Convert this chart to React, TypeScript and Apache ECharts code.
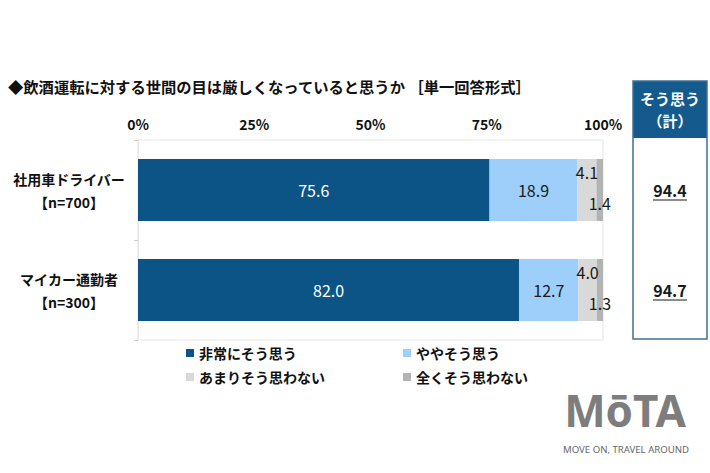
import React, { useEffect, useRef } from "react";
import * as echarts from "echarts";

const categories = ["社用車ドライバー\n【n=700】", "マイカー通勤者\n【n=300】"];
const seriesNames = ["非常にそう思う", "ややそう思う", "あまりそう思わない", "全くそう思わない"];
const strongly = [75.6, 82.0];
const somewhat = [18.9, 12.7];
const notMuch = [4.1, 4.0];
const notAtAll = [1.4, 1.3];
const totals = [94.4, 94.7];
const xTicks = [0, 25, 50, 75, 100];

const FONT = '"Noto Sans CJK JP", "Noto Sans", sans-serif';
const LOGO_FONT = '"Noto Sans", "Open Sans", sans-serif';
const colors = ["#0d5486", "#9dcffa", "#d9d9d9", "#b3b3b3"];

export default function App() {
  const ref = useRef<HTMLDivElement>(null);
  useEffect(() => {
    const chart = echarts.init(ref.current!, null, { renderer: "svg" });
    const labelFmt = (p: any) => Number(p.value).toFixed(1);
    const values = [strongly, somewhat, notMuch, notAtAll];
    const labelCfg = [
      { show: true, position: "inside", color: "#ffffff", fontSize: 16, fontFamily: FONT, formatter: labelFmt },
      { show: true, position: "inside", color: "#1a1a1a", fontSize: 16, fontFamily: FONT, formatter: labelFmt },
      { show: true, position: "insideTop", distance: 5, color: "#1a1a1a", fontSize: 16, fontFamily: FONT, formatter: labelFmt },
      { show: true, position: "insideBottom", distance: 10, color: "#1a1a1a", fontSize: 16, fontFamily: FONT, formatter: labelFmt },
    ];
    const barSeries = seriesNames.map((name, i) => ({
      name,
      type: "bar",
      stack: "total",
      xAxisIndex: 0,
      yAxisIndex: 0,
      barWidth: "62%",
      itemStyle: { color: colors[i] },
      label: labelCfg[i],
      data: values[i],
    }));
    const legendPos = [
      { left: 186, top: 346 },
      { left: 403, top: 346 },
      { left: 186, top: 370 },
      { left: 403, top: 370 },
    ];
    chart.setOption({
      animation: false,
      textStyle: { fontFamily: FONT },
      legend: seriesNames.map((n, i) => ({
        data: [n],
        left: legendPos[i].left,
        top: legendPos[i].top,
        padding: 0,
        icon: "rect",
        itemWidth: 8,
        itemHeight: 8,
        textStyle: { fontSize: 14, fontWeight: "bold", color: "#111", fontFamily: FONT },
      })),
      grid: [
        { left: 138, right: 107, top: 140, bottom: 133, show: true, borderColor: "#e4e4e4", borderWidth: 1 },
        { left: 633, right: 3, top: 140, bottom: 133 },
      ],
      xAxis: [
        {
          type: "value",
          gridIndex: 0,
          position: "top",
          min: xTicks[0],
          max: xTicks[xTicks.length - 1],
          interval: 25,
          axisLine: { show: false },
          axisTick: { show: false },
          splitLine: { show: false },
          axisLabel: { formatter: "{value}%", fontSize: 14, fontWeight: "bold", color: "#111", margin: 9, fontFamily: FONT },
        },
        { type: "value", gridIndex: 1, min: 0, max: 1, show: false },
      ],
      yAxis: [
        {
          type: "category",
          gridIndex: 0,
          inverse: true,
          data: categories,
          axisLine: { show: true, lineStyle: { color: "#e4e4e4" } },
          axisTick: { show: true, length: 4, lineStyle: { color: "#cccccc" } },
          axisLabel: { align: "center", margin: 69, fontSize: 14, fontWeight: "bold", color: "#111", lineHeight: 23, fontFamily: FONT },
        },
        { type: "category", gridIndex: 1, inverse: true, data: categories, show: false },
      ],
      series: [
        ...barSeries,
        {
          type: "custom",
          xAxisIndex: 1,
          yAxisIndex: 1,
          data: totals.map((v, i) => [0.5, i, v]),
          renderItem: (params: any, api: any) => {
            const p = api.coord([api.value(0), api.value(1)]);
            const v = Number(api.value(2)).toFixed(1);
            return {
              type: "group",
              children: [
                {
                  type: "text",
                  x: p[0],
                  y: p[1],
                  style: { text: v, align: "center", verticalAlign: "middle", font: `bold 16px ${FONT}`, fill: "#1a1a1a" },
                },
                {
                  type: "line",
                  shape: { x1: p[0] - 17, y1: p[1] + 10, x2: p[0] + 17, y2: p[1] + 10 },
                  style: { stroke: "#1a1a1a", lineWidth: 1.2 },
                },
              ],
            };
          },
        },
      ],
      graphic: [
        {
          type: "text",
          left: 8,
          top: 78,
          style: { text: "◆飲酒運転に対する世間の目は厳しくなっていると思うか ［単一回答形式］", font: `bold 15.3px ${FONT}`, fill: "#111" },
        },
        {
          type: "rect",
          shape: { x: 633, y: 81, width: 74, height: 57 },
          style: { fill: "#145a8c" },
        },
        {
          type: "rect",
          shape: { x: 633, y: 81, width: 74, height: 258 },
          style: { fill: "none", stroke: "#3f7299", lineWidth: 1.5 },
        },
        {
          type: "text",
          x: 670,
          y: 109,
          style: { text: "そう思う\n（計）", align: "center", verticalAlign: "middle", font: `bold 15px ${FONT}`, lineHeight: 22, fill: "#ffffff" },
        },
        {
          type: "text",
          x: 625,
          y: 410,
          style: { text: "MōTA", align: "center", verticalAlign: "middle", font: `bold 44px ${LOGO_FONT}`, lineHeight: 34, fill: "#7d7d7d" },
        },
        {
          type: "text",
          x: 626,
          y: 449,
          style: { text: "MOVE ON, TRAVEL AROUND", align: "center", verticalAlign: "middle", font: `9.6px ${LOGO_FONT}`, lineHeight: 11, fill: "#666666" },
        },
      ],
    });
    return () => chart.dispose();
  }, []);
  return <div ref={ref} style={{ width: 710, height: 473, position: "absolute", left: 0, top: 0 }} />;
}
